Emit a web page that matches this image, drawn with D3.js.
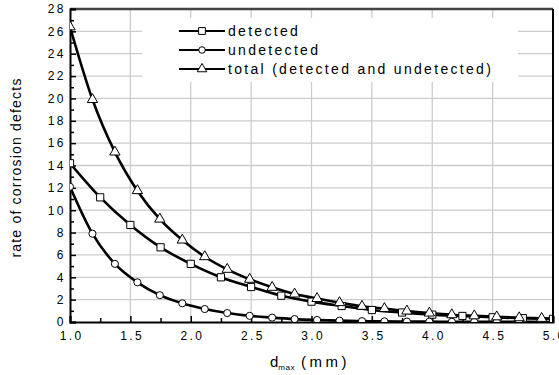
<!DOCTYPE html>
<html>
<head>
<meta charset="utf-8">
<script src="https://cdn.jsdelivr.net/npm/d3@7"></script>
<style>
  body { margin: 0; background: #fff; }
  text { font-family: Arial, "Liberation Sans", sans-serif; fill: #000; }
</style>
</head>
<body>
<div id="my_dataviz"></div>
<script>

// x positions of the detected markers (every 0.25 mm)
var xDetected = [1.0, 1.25, 1.5, 1.75, 2.0, 2.25, 2.5, 2.75, 3.0, 3.25, 3.5, 3.75, 4.0, 4.25, 4.5, 4.75, 5.0];
var detected = [14.2, 11.15, 8.68, 6.68, 5.2, 4.0, 3.13, 2.35, 1.82, 1.43, 1.07, 0.85, 0.66, 0.54, 0.42, 0.34, 0.28];

// x positions of the undetected / total markers (last point only ends the curve)
var xOther = [1.0, 1.186, 1.372, 1.558, 1.744, 1.93, 2.116, 2.302, 2.488, 2.674, 2.86, 3.046, 3.232, 3.418, 3.604, 3.79, 3.976, 4.162, 4.348, 4.534, 4.72, 4.906, 5.0];
var undetected = [12.1, 7.9, 5.2, 3.55, 2.4, 1.67, 1.16, 0.8, 0.55, 0.39, 0.26, 0.18, 0.12, 0.08, 0.06, 0.04, 0.03, 0.02, 0.015, 0.01, 0.01, 0.005, 0.004];
var total = [26.4, 19.9, 15.2, 11.75, 9.2, 7.33, 5.84, 4.71, 3.82, 3.1, 2.5, 2.1, 1.73, 1.4, 1.2, 0.98, 0.8, 0.65, 0.55, 0.46, 0.38, 0.32, 0.29];

var xTicks = [1.0, 1.5, 2.0, 2.5, 3.0, 3.5, 4.0, 4.5, 5.0];
var xMinor = [1.25, 1.75, 2.25, 2.75, 3.25, 3.75, 4.25, 4.75];
var yTicks = [0, 2, 4, 6, 8, 10, 12, 14, 16, 18, 20, 22, 24, 26, 28];
var yMinor = [1, 3, 5, 7, 9, 11, 13, 15, 17, 19, 21, 23, 25, 27];

var legendLabels = ["detected", "undetected", "total (detected and undetected)"];
var legendMarks = ["square", "circle", "triangle"];

var margin = {top: 9, right: 6, bottom: 53, left: 70},
    width = 559 - margin.left - margin.right,
    height = 375 - margin.top - margin.bottom;

var svg = d3.select("#my_dataviz")
  .append("svg")
    .attr("width", width + margin.left + margin.right)
    .attr("height", height + margin.top + margin.bottom)
  .append("g")
    .attr("transform", "translate(" + margin.left + "," + margin.top + ")");

var x = d3.scaleLinear().domain([1, 5]).range([0, width]);
var y = d3.scaleLinear().domain([0, 28]).range([height, 0]);

// grid
svg.append("g")
  .selectAll("line")
  .data(xTicks.slice(1, -1))
  .enter().append("line")
    .attr("x1", function(d) { return x(d); })
    .attr("x2", function(d) { return x(d); })
    .attr("y1", 0).attr("y2", height)
    .attr("stroke", "#cccccc").attr("stroke-width", 1.3);
svg.append("g")
  .selectAll("line")
  .data(yTicks.slice(1, -1))
  .enter().append("line")
    .attr("y1", function(d) { return y(d); })
    .attr("y2", function(d) { return y(d); })
    .attr("x1", 0).attr("x2", width)
    .attr("stroke", "#cccccc").attr("stroke-width", 1.3);

// legend background hides the grid
svg.append("rect")
  .attr("x", 142 - margin.left)
  .attr("y", 18 - margin.top)
  .attr("width", 376)
  .attr("height", 64)
  .attr("fill", "#fff");

// frame top
svg.append("line")
  .attr("x1", 0).attr("x2", width).attr("y1", 0).attr("y2", 0)
  .attr("stroke", "#444").attr("stroke-width", 2.5);

// axes with inside ticks
var xAxis = svg.append("g")
  .attr("transform", "translate(0," + height + ")")
  .call(d3.axisBottom(x).tickValues(xTicks).tickSize(-6).tickPadding(9).tickFormat(d3.format(".1f")));
svg.append("g")
  .attr("transform", "translate(0," + height + ")")
  .call(d3.axisBottom(x).tickValues(xMinor).tickSize(-4).tickFormat(""))
  .select(".domain").remove();

var yAxis = svg.append("g")
  .call(d3.axisLeft(y).tickValues(yTicks).tickSize(-6).tickPadding(6.5));
svg.append("g")
  .call(d3.axisLeft(y).tickValues(yMinor).tickSize(-4).tickFormat(""))
  .select(".domain").remove();

svg.selectAll(".domain").attr("stroke", "#000").attr("stroke-width", 2);
svg.selectAll(".tick line").attr("stroke", "#000").attr("stroke-width", 1.5);
svg.selectAll(".tick text")
  .style("font-size", "12px")
  .style("letter-spacing", "2.4px")
  .style("font-family", "Arial, 'Liberation Sans', sans-serif");
yAxis.selectAll(".tick text").attr("dx", "2.4px");
xAxis.selectAll(".tick text").attr("dx", "1.2px");

// clip the series to the plot
svg.append("clipPath").attr("id", "plotclip")
  .append("rect").attr("x", 0).attr("y", -10).attr("width", width).attr("height", height + 10);

var plot = svg.append("g").attr("clip-path", "url(#plotclip)");

var line = d3.line()
  .x(function(d) { return x(d.x); })
  .y(function(d) { return y(d.y); })
  .curve(d3.curveMonotoneX);

function pts(xs, ys) {
  return xs.map(function(v, i) { return {x: v, y: ys[i]}; });
}

var series = [
  {data: pts(xDetected, detected), mark: "square", n: xDetected.length},
  {data: pts(xOther, undetected), mark: "circle", n: xOther.length - 1},
  {data: pts(xOther, total), mark: "triangle", n: xOther.length - 1}
];

var symSize = {square: 52, circle: 40, triangle: 46};
var symType = {square: d3.symbolSquare, circle: d3.symbolCircle, triangle: d3.symbolTriangle};

series.forEach(function(s) {
  plot.append("path")
    .datum(s.data)
    .attr("fill", "none")
    .attr("stroke", "#000")
    .attr("stroke-width", 2.6)
    .attr("d", line);
});

series.forEach(function(s) {
  plot.selectAll("mark-" + s.mark)
    .data(s.data.slice(0, s.n))
    .enter().append("path")
      .attr("transform", function(d) { return "translate(" + x(d.x) + "," + y(d.y) + ")"; })
      .attr("d", d3.symbol().type(symType[s.mark]).size(symSize[s.mark]))
      .attr("fill", "#fff")
      .attr("stroke", "#000")
      .attr("stroke-width", 1);
});

// right frame drawn over the markers
svg.append("line")
  .attr("x1", width).attr("x2", width).attr("y1", 0).attr("y2", height)
  .attr("stroke", "#000").attr("stroke-width", 2);

// legend
var legend = svg.append("g").attr("transform", "translate(" + (179 - margin.left) + "," + (31 - margin.top) + ")");
legendLabels.forEach(function(lbl, i) {
  var g = legend.append("g").attr("transform", "translate(0," + (i * 19) + ")");
  g.append("line")
    .attr("x1", 0).attr("x2", 46).attr("y1", 0).attr("y2", 0)
    .attr("stroke", "#000").attr("stroke-width", 2);
  g.append("path")
    .attr("transform", "translate(23,0)")
    .attr("d", d3.symbol().type(symType[legendMarks[i]]).size(symSize[legendMarks[i]] - 6))
    .attr("fill", "#fff").attr("stroke", "#000").attr("stroke-width", 1);
  g.append("text")
    .attr("x", 49)
    .attr("y", 5)
    .style("font-size", "14px")
    .style("letter-spacing", "2.3px")
    .text(lbl);
});

// X axis label: d_max (mm)
var xl = svg.append("text")
  .attr("x", 270 - margin.left)
  .attr("y", 366.5 - margin.top)
  .style("font-size", "15px");
xl.append("tspan").text("d");
xl.append("tspan").attr("dy", 3).style("font-size", "8px").style("letter-spacing", "0.5px").text("max");
xl.append("tspan").attr("dy", -3).attr("dx", 6).style("letter-spacing", "3.5px").text("(mm)");

// Y axis label
svg.append("text")
  .attr("transform", "translate(" + (21 - margin.left) + "," + (167.5 - margin.top) + ")rotate(-90)")
  .attr("text-anchor", "middle")
  .style("font-size", "14px")
  .style("letter-spacing", "1.2px")
  .text("rate of corrosion defects");

</script>
</body>
</html>
